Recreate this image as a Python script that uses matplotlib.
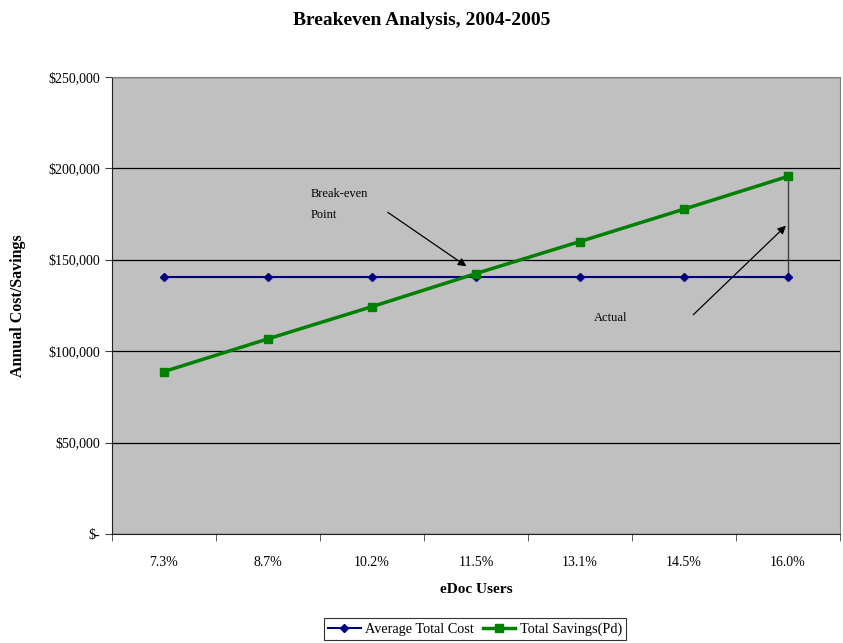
import matplotlib
matplotlib.use("Agg")
import matplotlib.pyplot as plt
from matplotlib.ticker import FuncFormatter

# data
categories = ["7.3%", "8.7%", "10.2%", "11.5%", "13.1%", "14.5%", "16.0%"]
avg_total_cost = [140600, 140600, 140600, 140600, 140600, 140600, 140600]
total_savings = [88800, 106700, 124300, 142400, 159900, 177600, 195500]

plt.rcParams["font.family"] = ["Liberation Serif", "DejaVu Serif"]

fig = plt.figure(figsize=(8.43, 6.43), dpi=100)
ax = fig.add_axes([112 / 843, 1 - 534 / 643, 728 / 843, 457.3 / 643])
ax.set_facecolor("#C0C0C0")

x = list(range(len(categories)))
ax.plot(x, avg_total_cost, color="#000080", lw=1.5, marker="D", ms=4.5,
        label="Average Total Cost", zorder=3)
ax.plot(x, total_savings, color="#008000", lw=2.5, marker="s", ms=6,
        label="Total Savings(Pd)", zorder=4)

# vertical gap line at the actual point
ax.vlines(x[-1], avg_total_cost[-1], total_savings[-1], color="#404040", lw=1, zorder=2)

ax.set_xlim(-0.5, len(categories) - 0.5)
ax.set_ylim(0, 250000)
ax.set_yticks(range(0, 250001, 50000))
ax.yaxis.set_major_formatter(FuncFormatter(lambda v, p: "$-" if v == 0 else f"${v:,.0f}"))
ax.set_xticks(x)
ax.set_xticklabels(categories)
ax.set_xticks([i - 0.5 for i in range(len(categories) + 1)], minor=True)
ax.tick_params(axis="x", which="major", length=0, labelsize=10, pad=16)
ax.tick_params(axis="x", which="minor", length=5, direction="out", color="#404040")
ax.tick_params(axis="y", length=5, direction="out", labelsize=10, color="#404040")
ax.grid(axis="y", color="black", lw=0.9)
ax.set_axisbelow(True)
for s in ax.spines.values():
    s.set_color("#808080")
ax.spines["left"].set_color("#202020")
ax.spines["bottom"].set_color("#202020")

ax.set_xlabel("eDoc Users", fontsize=11, fontweight="bold", labelpad=10)
ax.set_ylabel("Annual Cost/Savings", fontsize=11.5, fontweight="bold", labelpad=16)
fig.suptitle("Breakeven Analysis, 2004-2005", fontsize=14, fontweight="bold", y=0.982)

ax.annotate("", xy=(2.93, 145500), xytext=(2.13, 176700),
            arrowprops=dict(arrowstyle="-|>", color="black", lw=0.9, mutation_scale=12))
ax.text(1.41, 180300, "Break-even\nPoint", fontsize=9, va="center", ha="left", linespacing=2.0)
ax.annotate("", xy=(6.0, 169600), xytext=(5.07, 118800),
            arrowprops=dict(arrowstyle="-|>", color="black", lw=0.9, mutation_scale=12))
ax.text(4.13, 118200, "Actual", fontsize=9, va="center", ha="left")

leg = fig.legend(loc="center", bbox_to_anchor=(475 / 843, 1 - 629 / 643), ncol=2,
                 fontsize=10.3, frameon=True, fancybox=False, edgecolor="black",
                 handlelength=2.3, handletextpad=0.3, columnspacing=0.6,
                 borderpad=0.3, borderaxespad=0)
leg.get_frame().set_linewidth(0.8)

fig.savefig("out.png", dpi=100)
